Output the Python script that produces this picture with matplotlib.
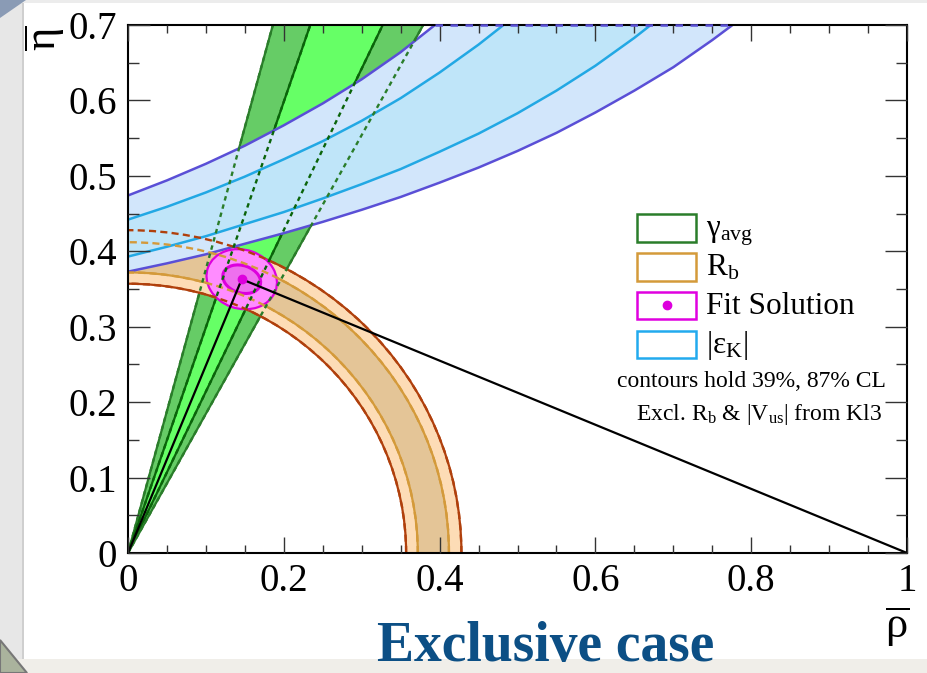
import numpy as np
import matplotlib
matplotlib.use("Agg")
import matplotlib.pyplot as plt
import matplotlib.patches as patches
from matplotlib.ticker import MultipleLocator

plt.rcParams['font.family'] = ['Liberation Serif', 'DejaVu Serif']
plt.rcParams['mathtext.fontset'] = 'custom'
plt.rcParams['mathtext.rm'] = 'Liberation Serif'
plt.rcParams['mathtext.it'] = 'Liberation Serif:italic'
plt.rcParams['mathtext.bf'] = 'Liberation Serif:bold'

# ---- values ----
x_ticks = [0, 0.2, 0.4, 0.6, 0.8, 1.0]
x_labels = ['0', '0.2', '0.4', '0.6', '0.8', '1']
y_ticks = [0, 0.1, 0.2, 0.3, 0.4, 0.5, 0.6, 0.7]
y_labels = ['0', '0.1', '0.2', '0.3', '0.4', '0.5', '0.6', '0.7']

# gamma band: rho where each edge leaves the frame at eta = 0.7
# (outer left, inner left, inner right, outer right)
gamma_rho_top = [0.186, 0.234, 0.327, 0.379]
gamma_eta_top = 0.7

# R_b band radii (inner brown, inner orange, outer orange, outer brown)
rb_radii = [0.357, 0.372, 0.412, 0.428]

# |eps_K| band edges
epsk_rho_outer_up = [0.0, 0.05, 0.10, 0.15, 0.20, 0.25, 0.30, 0.35, 0.394]
epsk_eta_outer_up = [0.474, 0.494, 0.516, 0.540, 0.567, 0.596, 0.628, 0.664, 0.700]
epsk_rho_inner_up = [0.0, 0.05, 0.10, 0.15, 0.20, 0.25, 0.30, 0.35, 0.40, 0.45, 0.482]
epsk_eta_inner_up = [0.442, 0.459, 0.478, 0.499, 0.522, 0.546, 0.573, 0.603, 0.637, 0.674, 0.700]
epsk_rho_inner_lo = [0.0, 0.05, 0.10, 0.15, 0.20, 0.25, 0.30, 0.35, 0.40, 0.45, 0.50, 0.55,
                     0.60, 0.65, 0.671]
epsk_eta_inner_lo = [0.393, 0.406, 0.420, 0.436, 0.452, 0.470, 0.489, 0.509, 0.532, 0.556, 0.583,
                     0.613, 0.646, 0.683, 0.700]
epsk_rho_outer_lo = [0.0, 0.05, 0.10, 0.15, 0.20, 0.25, 0.30, 0.35, 0.40, 0.45, 0.50, 0.55,
                     0.60, 0.65, 0.70, 0.75, 0.776]
epsk_eta_outer_lo = [0.373, 0.384, 0.396, 0.410, 0.424, 0.439, 0.455, 0.472, 0.491, 0.511, 0.533,
                     0.557, 0.584, 0.613, 0.644, 0.680, 0.700]

# fit solution (apex) and its two contours: width, height, angle
fit_rho, fit_eta = 0.146, 0.363
fit_outer = (0.092, 0.078, -20)
fit_inner = (0.050, 0.036, -20)

# unitarity triangle
tri_rho = [0.0, fit_rho, 1.0]
tri_eta = [0.0, fit_eta, 0.0]

# ---- colours ----
c_gam_dark, c_gam_light = '#66cc66', '#66ff66'
c_gam_edge_out, c_gam_edge_in = '#2a7d2a', '#0a640a'
c_rb_out, c_rb_in = '#fddcb6', '#e4c597'
c_rb_edge_out, c_rb_edge_in = '#b0400c', '#d49a3a'
c_ek_out, c_ek_in = '#d2e6fb', '#bfe5f9'
c_ek_edge_out, c_ek_edge_in = '#5a4fd6', '#22a8e4'
c_fit_out, c_fit_in, c_fit_edge = '#ff8cff', '#ee70ee', '#dd00dd'

W, H = 927, 673
fig = plt.figure(figsize=(W / 100, H / 100), dpi=100)


def fx(px):
    return px / W


def fy(py):
    return 1 - py / H


# slide background bits
fig.add_artist(patches.Rectangle((0, 0), fx(22), 1, transform=fig.transFigure,
                                 fc='#e7e7e7', ec='none', zorder=0))
fig.add_artist(patches.Rectangle((fx(22), 0), fx(1.5), 1, transform=fig.transFigure,
                                 fc='#cfcfcf', ec='none', zorder=0))
fig.add_artist(patches.Rectangle((0, 0), 1, fy(659), transform=fig.transFigure,
                                 fc='#f0eee9', ec='none', zorder=0))
fig.add_artist(patches.Rectangle((0, fy(3)), 1, 1 - fy(3), transform=fig.transFigure,
                                 fc='#ececec', ec='none', zorder=0))
fig.add_artist(patches.Polygon([(0, 1), (fx(26), 1), (0, fy(18))], closed=True,
                               transform=fig.transFigure, fc='#8a9bb5', ec='none', zorder=0))
fig.add_artist(patches.Polygon([(0, fy(640)), (0, 0), (fx(27), 0)], closed=True,
                               transform=fig.transFigure, fc='#aab39d', ec='#777777', lw=1.5, zorder=0))

ax = fig.add_axes([fx(128), fy(553), fx(907) - fx(128), fy(25) - fy(553)])
ax.set_xlim(0, 1)
ax.set_ylim(0, 0.7)
ax.patch.set_facecolor('white')

# gamma band
ax.add_patch(patches.Polygon([(0, 0), (gamma_rho_top[0], gamma_eta_top), (gamma_rho_top[3], gamma_eta_top)],
                             closed=True, fc=c_gam_dark, ec='none', zorder=1))
ax.add_patch(patches.Polygon([(0, 0), (gamma_rho_top[1], gamma_eta_top), (gamma_rho_top[2], gamma_eta_top)],
                             closed=True, fc=c_gam_light, ec='none', zorder=1.1))
gam_cols = [c_gam_edge_out, c_gam_edge_in, c_gam_edge_in, c_gam_edge_out]
for r, c in zip(gamma_rho_top, gam_cols):
    ax.plot([0, r], [0, gamma_eta_top], color=c, lw=1.6, zorder=1.5)

# R_b band
ax.add_patch(patches.Wedge((0, 0), rb_radii[3], 0, 90, width=rb_radii[3] - rb_radii[0],
                           fc=c_rb_out, ec='none', zorder=2))
ax.add_patch(patches.Wedge((0, 0), rb_radii[2], 0, 90, width=rb_radii[2] - rb_radii[1],
                           fc=c_rb_in, ec='none', zorder=2.1))
rb_cols = [c_rb_edge_out, c_rb_edge_in, c_rb_edge_in, c_rb_edge_out]
for r, c in zip(rb_radii, rb_cols):
    ax.add_patch(patches.Arc((0, 0), 2 * r, 2 * r, theta1=0, theta2=90, color=c, lw=1.6, zorder=2.5))

# |eps_K| band
outer_poly = list(zip(epsk_rho_outer_up, epsk_eta_outer_up)) + \
    list(zip(epsk_rho_outer_lo, epsk_eta_outer_lo))[::-1]
inner_poly = list(zip(epsk_rho_inner_up, epsk_eta_inner_up)) + \
    list(zip(epsk_rho_inner_lo, epsk_eta_inner_lo))[::-1]
ax.add_patch(patches.Polygon(outer_poly, closed=True, fc=c_ek_out, ec='none', zorder=3))
ax.add_patch(patches.Polygon(inner_poly, closed=True, fc=c_ek_in, ec='none', zorder=3.1))
for rr, ee, c in [(epsk_rho_outer_up, epsk_eta_outer_up, c_ek_edge_out),
                  (epsk_rho_outer_lo, epsk_eta_outer_lo, c_ek_edge_out),
                  (epsk_rho_inner_up, epsk_eta_inner_up, c_ek_edge_in),
                  (epsk_rho_inner_lo, epsk_eta_inner_lo, c_ek_edge_in)]:
    ax.plot(rr, ee, color=c, lw=1.8, solid_joinstyle='round', zorder=3.5)
ax.plot([epsk_rho_outer_up[-1], epsk_rho_outer_lo[-1]], [gamma_eta_top] * 2, color=c_ek_edge_out,
        lw=1.8, dashes=(3, 3), zorder=12, clip_on=False)

# fit solution contours
ax.add_patch(patches.Ellipse((fit_rho, fit_eta), fit_outer[0], fit_outer[1], angle=fit_outer[2],
                             fc=c_fit_out, ec=c_fit_edge, lw=1.6, zorder=4))
ax.add_patch(patches.Ellipse((fit_rho, fit_eta), fit_inner[0], fit_inner[1], angle=fit_inner[2],
                             fc=c_fit_in, ec=c_fit_edge, lw=2.2, zorder=4.1))

# hidden contours drawn dashed on top
for r, c in zip(rb_radii, rb_cols):
    ax.add_patch(patches.Arc((0, 0), 2 * r, 2 * r, theta1=0, theta2=90, color=c, lw=1.7,
                             ls=(0, (3, 1.8)), zorder=5))
for r, c in zip(gamma_rho_top, gam_cols):
    ax.plot([0, r], [0, gamma_eta_top], color=c, lw=1.7, dashes=(1.9, 1.7), zorder=5)

# triangle and apex
ax.plot(tri_rho, tri_eta, color='black', lw=1.6, zorder=6)
ax.plot([fit_rho], [fit_eta], 'o', color=c_fit_edge, ms=6, zorder=7)

# axes style
ax.set_xticks(x_ticks)
ax.set_xticklabels(x_labels)
ax.set_yticks(y_ticks)
ax.set_yticklabels(y_labels)
ax.xaxis.set_minor_locator(MultipleLocator(0.05))
ax.yaxis.set_minor_locator(MultipleLocator(0.05))
ax.tick_params(axis='x', which='major', direction='in', length=11.5, width=1, color='#333333',
               top=True, bottom=True, pad=7, labelsize=28)
ax.tick_params(axis='x', which='minor', direction='in', length=5.8, width=1, color='#333333', top=True)
ax.tick_params(axis='y', which='major', direction='in', length=15.8, width=1, color='#333333',
               left=True, right=True, pad=8, labelsize=28)
ax.tick_params(axis='y', which='minor', direction='in', length=7.9, width=1, color='#333333', right=True)
for s in ax.spines.values():
    s.set_linewidth(1.5)
    s.set_zorder(10)
ax.xaxis.set_zorder(10)
ax.yaxis.set_zorder(10)

# axis titles
fig.text(fx(45), fy(38), r'$\overline{\mathrm{η}}$', rotation=90, fontsize=32, ha='center', va='center')
fig.text(fx(897), fy(627), r'$\overline{\mathrm{ρ}}$', fontsize=32, ha='center', va='center')

# legend
box_x0, box_x1 = 637, 696
rows = [
    (214, 242, c_gam_edge_out, r'$\mathrm{γ_{avg}}$'),
    (253, 281, c_rb_edge_in, r'$\mathrm{R_b}$'),
    (292, 319, '#e000e0', 'Fit Solution'),
    (331, 358, '#22aaee', r'$\mathrm{|ε_K|}$'),
]
for top, bot, col, lab in rows:
    fig.add_artist(patches.Rectangle((fx(box_x0), fy(bot)), fx(box_x1 - box_x0), fy(top) - fy(bot),
                                     transform=fig.transFigure, fc='white', ec=col, lw=1.8, zorder=20))
    fig.text(fx(706), fy((top + bot) / 2 + 8), lab, fontsize=22.5, ha='left', va='baseline', zorder=21)
fig.add_artist(plt.Line2D([fx((box_x0 + box_x1) / 2)], [fy(305.5)], marker='o', ms=6,
                          color='#dd00dd', transform=fig.transFigure, zorder=21))
fig.text(fx(751), fy(387), 'contours hold 39%, 87% CL', fontsize=17, ha='center', va='baseline', zorder=21)
fig.text(fx(882), fy(420), r'Excl. $\mathrm{R_b}$ & $\mathrm{|V_{us}|}$ from Kl3', fontsize=17,
         ha='right', va='baseline', zorder=21)

fig.text(fx(546), fy(647), 'Exclusive case', fontsize=40, fontweight='bold', color='#0c4f85',
         ha='center', va='center')

fig.savefig('out.png', dpi=100)
